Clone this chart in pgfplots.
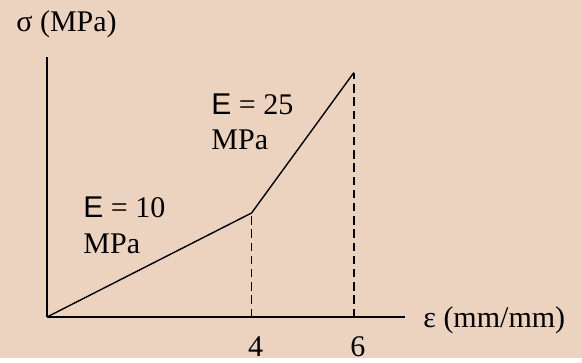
\documentclass[border=0pt]{standalone}
\usepackage{fontspec}
\setmainfont{Liberation Serif}
\newfontfamily\sansE{Liberation Sans}
\usepackage{pgfplots}
\pgfplotsset{compat=1.18}
\definecolor{bgbeige}{RGB}{236,211,192}

\begin{document}
\begin{tikzpicture}[font=\fontsize{15}{18}\selectfont]
% page background (reference size 582x358 px at 0.5pt per px)
\fill[bgbeige] (-23.5pt,-20.5pt) rectangle (267.5pt,158.5pt);
\begin{axis}[
    at={(0,0)}, anchor=origin,
    scale only axis, width=179pt, height=130pt,
    xmin=0, xmax=7, ymin=0, ymax=100,
    axis lines=left, axis line style={-, line width=0.9pt},
    xtick={4,6}, ytick=\empty,
    major tick length=0pt,
    /pgf/number format/assume math mode=true,
    xticklabel style={anchor=base, yshift=-19.5pt, xshift=2pt,
      font=\fontsize{15}{18}\selectfont},
    clip=false,
  ]
  \addplot[black, line width=0.7pt] coordinates {(0,0) (4,40) (6,94)};
  \addplot[black, line width=0.7pt, dash pattern=on 4.2pt off 2.4pt] coordinates {(4,0) (4,40)};
  \addplot[black, line width=0.7pt, dash pattern=on 4.2pt off 2.4pt] coordinates {(6,0) (6,94)};
\end{axis}
\node[anchor=base west, inner sep=0] at (-15.5pt,142.5pt) {σ (MPa)};
\node[anchor=base west, inner sep=0] at (188pt,-5pt) {ε (mm/mm)};
\node[anchor=base west, inner sep=0] at (18pt,49.5pt) {{\sansE E} = 10};
\node[anchor=base west, inner sep=0] at (18pt,31.5pt) {MPa};
\node[anchor=base west, inner sep=0] at (82pt,101pt) {{\sansE E} = 25};
\node[anchor=base west, inner sep=0] at (82pt,83.5pt) {MPa};
\end{tikzpicture}
\end{document}
